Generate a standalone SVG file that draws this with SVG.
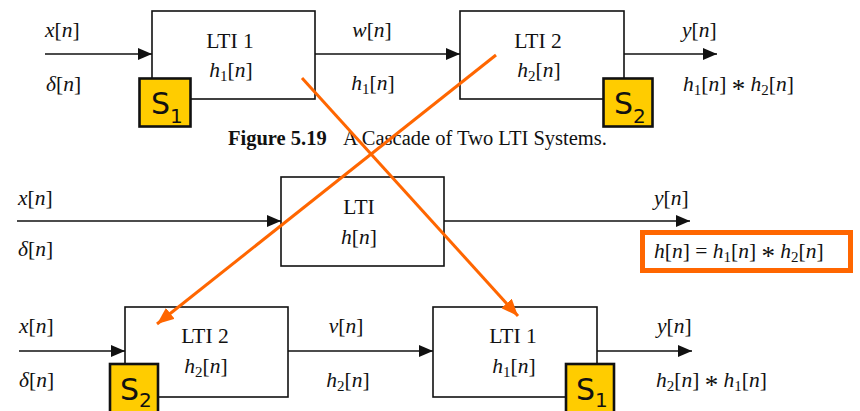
<svg xmlns="http://www.w3.org/2000/svg" width="860" height="411" viewBox="0 0 860 411">
<style>
.t{font-family:"Liberation Serif","Times New Roman",serif;font-size:21.5px;fill:#111}
.m{text-anchor:middle}
.i{font-style:italic}
.sb{font-size:15px}
.ast{font-size:27px}
.box{fill:#fff;stroke:#111;stroke-width:1.6}
.wire{stroke:#111;stroke-width:1.6;fill:none}
.sq{fill:#FFCC00;stroke:#111;stroke-width:2.6}
.st{font-family:"DejaVu Sans","Verdana",sans-serif;font-size:30px;fill:#111}
.ss{font-size:20px}
.or{stroke:#FF6600;stroke-width:3;fill:none}
.cap{font-family:"Liberation Serif","Times New Roman",serif;font-size:20.5px;fill:#111}
</style>
<defs>
<marker id="ah" markerUnits="userSpaceOnUse" markerWidth="14" markerHeight="12" refX="14" refY="6" orient="auto">
<path d="M0,0 L14,6 L0,12 z" fill="#111"/>
</marker>
<marker id="oh" markerUnits="userSpaceOnUse" markerWidth="17" markerHeight="14" refX="17" refY="7" orient="auto">
<path d="M0,0 L17,7 L0,14 z" fill="#FF6600"/>
</marker>
</defs>

<g id="connectors">
<line class="wire" x1="45" y1="54" x2="152" y2="54" marker-end="url(#ah)"/>
<line class="wire" x1="315" y1="54" x2="460" y2="54" marker-end="url(#ah)"/>
<line class="wire" x1="624" y1="54" x2="717" y2="54" marker-end="url(#ah)"/>
<line class="wire" x1="17" y1="221" x2="281" y2="221" marker-end="url(#ah)"/>
<line class="wire" x1="444" y1="221" x2="690" y2="221" marker-end="url(#ah)"/>
<line class="wire" x1="19" y1="351" x2="125" y2="351" marker-end="url(#ah)"/>
<line class="wire" x1="288" y1="351" x2="433" y2="351" marker-end="url(#ah)"/>
<line class="wire" x1="597" y1="351" x2="692" y2="351" marker-end="url(#ah)"/>
</g>

<g id="lti1-top">
<rect class="box" x="152" y="11" width="163" height="88"/>
<text class="t m" x="230" y="48">LTI 1</text>
<text class="t m" x="231" y="77"><tspan class="i">h</tspan><tspan class="sb" dy="4">1</tspan><tspan dy="-4">[</tspan><tspan class="i">n</tspan>]</text>
</g>
<g id="s1-top">
<rect class="sq" x="139.5" y="78.5" width="51" height="48"/>
<text class="st" x="151" y="114">S<tspan class="ss" dy="9">1</tspan></text>
</g>
<g id="lti2-top">
<rect class="box" x="460" y="11" width="164" height="88"/>
<text class="t m" x="538" y="48">LTI 2</text>
<text class="t m" x="539" y="77"><tspan class="i">h</tspan><tspan class="sb" dy="4">2</tspan><tspan dy="-4">[</tspan><tspan class="i">n</tspan>]</text>
</g>
<g id="s2-top">
<rect class="sq" x="603.5" y="78.5" width="49" height="48"/>
<text class="st" x="614" y="114">S<tspan class="ss" dy="9">2</tspan></text>
</g>

<g id="labels-top">
<text class="t" x="45" y="37"><tspan class="i">x</tspan>[<tspan class="i">n</tspan>]</text>
<text class="t" x="46" y="91"><tspan class="i">δ</tspan>[<tspan class="i">n</tspan>]</text>
<text class="t m" x="372" y="37"><tspan class="i">w</tspan>[<tspan class="i">n</tspan>]</text>
<text class="t m" x="373" y="90"><tspan class="i">h</tspan><tspan class="sb" dy="4">1</tspan><tspan dy="-4">[</tspan><tspan class="i">n</tspan>]</text>
<text class="t" x="682" y="37"><tspan class="i">y</tspan>[<tspan class="i">n</tspan>]</text>
<text class="t" x="683" y="91"><tspan class="i">h</tspan><tspan class="sb" dy="4">1</tspan><tspan dy="-4">[</tspan><tspan class="i">n</tspan>] <tspan class="ast" dy="7">*</tspan><tspan dy="-7"> </tspan><tspan class="i">h</tspan><tspan class="sb" dy="4">2</tspan><tspan dy="-4">[</tspan><tspan class="i">n</tspan>]</text>
</g>

<g id="caption">
<text class="cap" x="228" y="145"><tspan font-weight="bold">Figure 5.19</tspan><tspan x="343">A Cascade of Two LTI Systems.</tspan></text>
</g>

<g id="lti-mid">
<rect class="box" x="281" y="177" width="163" height="89"/>
<text class="t m" x="359" y="214">LTI</text>
<text class="t m" x="359" y="244"><tspan class="i">h</tspan>[<tspan class="i">n</tspan>]</text>
</g>
<g id="labels-mid">
<text class="t" x="18" y="205"><tspan class="i">x</tspan>[<tspan class="i">n</tspan>]</text>
<text class="t" x="18" y="256"><tspan class="i">δ</tspan>[<tspan class="i">n</tspan>]</text>
<text class="t" x="654" y="205"><tspan class="i">y</tspan>[<tspan class="i">n</tspan>]</text>
</g>
<g id="result-box">
<rect x="642.5" y="232.5" width="208" height="38" fill="none" stroke="#FF6600" stroke-width="5"/>
<text class="t" x="654" y="258"><tspan class="i">h</tspan>[<tspan class="i">n</tspan>] = <tspan class="i">h</tspan><tspan class="sb" dy="4">1</tspan><tspan dy="-4">[</tspan><tspan class="i">n</tspan>] <tspan class="ast" dy="7">*</tspan><tspan dy="-7"> </tspan><tspan class="i">h</tspan><tspan class="sb" dy="4">2</tspan><tspan dy="-4">[</tspan><tspan class="i">n</tspan>]</text>
</g>

<g id="lti2-bot">
<rect class="box" x="125" y="307" width="163" height="90"/>
<text class="t m" x="205" y="343">LTI 2</text>
<text class="t m" x="206" y="373"><tspan class="i">h</tspan><tspan class="sb" dy="4">2</tspan><tspan dy="-4">[</tspan><tspan class="i">n</tspan>]</text>
</g>
<g id="s2-bot">
<rect class="sq" x="110" y="364" width="48" height="52"/>
<text class="st" x="120" y="400">S<tspan class="ss" dy="7">2</tspan></text>
</g>
<g id="lti1-bot">
<rect class="box" x="433" y="307" width="164" height="90"/>
<text class="t m" x="513" y="343">LTI 1</text>
<text class="t m" x="514" y="373"><tspan class="i">h</tspan><tspan class="sb" dy="4">1</tspan><tspan dy="-4">[</tspan><tspan class="i">n</tspan>]</text>
</g>
<g id="s1-bot">
<rect class="sq" x="566" y="364" width="48" height="52"/>
<text class="st" x="576" y="400">S<tspan class="ss" dy="7">1</tspan></text>
</g>
<g id="labels-bot">
<text class="t" x="19" y="333"><tspan class="i">x</tspan>[<tspan class="i">n</tspan>]</text>
<text class="t" x="19" y="387"><tspan class="i">δ</tspan>[<tspan class="i">n</tspan>]</text>
<text class="t m" x="346" y="333"><tspan class="i">v</tspan>[<tspan class="i">n</tspan>]</text>
<text class="t m" x="348" y="387"><tspan class="i">h</tspan><tspan class="sb" dy="4">2</tspan><tspan dy="-4">[</tspan><tspan class="i">n</tspan>]</text>
<text class="t" x="657" y="333"><tspan class="i">y</tspan>[<tspan class="i">n</tspan>]</text>
<text class="t" x="656" y="387"><tspan class="i">h</tspan><tspan class="sb" dy="4">2</tspan><tspan dy="-4">[</tspan><tspan class="i">n</tspan>] <tspan class="ast" dy="7">*</tspan><tspan dy="-7"> </tspan><tspan class="i">h</tspan><tspan class="sb" dy="4">1</tspan><tspan dy="-4">[</tspan><tspan class="i">n</tspan>]</text>
</g>

<g id="swap-arrows">
<line class="or" x1="302" y1="78" x2="518" y2="316" marker-end="url(#oh)"/>
<line class="or" x1="496" y1="55" x2="157" y2="324" marker-end="url(#oh)"/>
</g>
</svg>
